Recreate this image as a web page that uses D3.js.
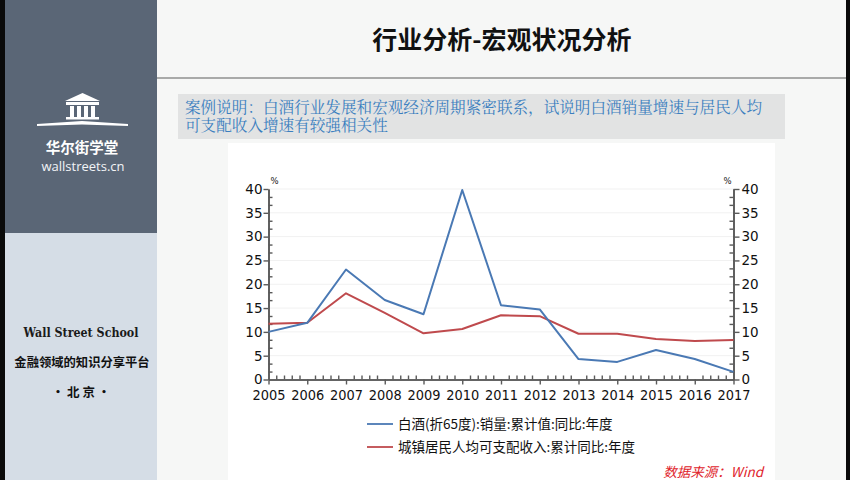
<!DOCTYPE html>
<html><head><meta charset="utf-8">
<script src="https://cdn.jsdelivr.net/npm/d3@7/dist/d3.min.js"></script>
<style>
html,body{margin:0;padding:0;background:#fff;}
svg{display:block;}
</style></head>
<body>
<svg id="c" width="850" height="480"></svg>
<script>
const years = [2005,2006,2007,2008,2009,2010,2011,2012,2013,2014,2015,2016,2017];
const baijiuSales = [10.0,11.9,23.1,16.7,13.7,39.8,15.6,14.7,4.3,3.7,6.2,4.3,1.6];
const incomeGrowth = [11.7,11.9,18.1,14.0,9.7,10.6,13.5,13.3,9.6,9.6,8.5,8.1,8.3];
const yTicks = [0,5,10,15,20,25,30,35,40];
const seriesNames = ["白酒(折65度):销量:累计值:同比:年度","城镇居民人均可支配收入:累计同比:年度"];
const seriesColors = ["#4a79b4","#bf4a4d"];
const titleText = "行业分析-宏观状况分析";
const noteLines = ["案例说明：白酒行业发展和宏观经济周期紧密联系，试说明白酒销量增速与居民人均","可支配收入增速有较强相关性"];
const sourceText = "数据来源：Wind";

const svg = d3.select("#c");
const CJK = "'Noto Sans CJK SC','Noto Sans',sans-serif";
const NUM = "'DejaVu Sans',sans-serif";

// backgrounds
svg.append("rect").attr("x",0).attr("y",0).attr("width",850).attr("height",480).attr("fill","#f6f7f6");
svg.append("rect").attr("x",0).attr("y",0).attr("width",5).attr("height",480).attr("fill","#0a0a0a");
svg.append("rect").attr("x",846).attr("y",0).attr("width",4).attr("height",480).attr("fill","#0a0a0a");
svg.append("rect").attr("x",5).attr("y",0).attr("width",152).attr("height",233).attr("fill","#5a6676");
svg.append("rect").attr("x",5).attr("y",233).attr("width",152).attr("height",247).attr("fill","#d5dde6");
// title separator
svg.append("rect").attr("x",157).attr("y",77).attr("width",689).attr("height",2).attr("fill","#a9aaa9");

// logo
const logo = svg.append("g").attr("fill","#fff");
logo.append("path").attr("d","M65,101 L82.5,93 L100,101 Z");
logo.append("rect").attr("x",66).attr("y",102).attr("width",33).attr("height",3);
[70,77,84,91].forEach(cx=>logo.append("rect").attr("x",cx).attr("y",106).attr("width",4).attr("height",11));
logo.append("rect").attr("x",66).attr("y",117).attr("width",33).attr("height",2.5);
logo.append("path").attr("d","M37,124 L82,121 L128,124 L128,126 L82,124.5 L37,126 Z");

svg.append("text").attr("x",82).attr("y",153).attr("text-anchor","middle")
  .attr("font-family",CJK).attr("font-weight","bold").attr("font-size",14.5).attr("fill","#fff").text("华尔街学堂");
svg.append("text").attr("x",83).attr("y",171).attr("text-anchor","middle")
  .attr("font-family","'Open Sans',sans-serif").attr("font-size",13).attr("fill","#f2f4f6").text("wallstreets.cn");

svg.append("text").attr("x",81).attr("y",337).attr("text-anchor","middle")
  .attr("font-family","'DejaVu Serif',serif").attr("font-weight","bold").attr("font-size",12)
  .attr("textLength",115).attr("lengthAdjust","spacingAndGlyphs").attr("fill","#1a1a1a").text("Wall Street School");
svg.append("text").attr("x",82).attr("y",367).attr("text-anchor","middle")
  .attr("font-family",CJK).attr("font-weight","bold").attr("font-size",12.3).attr("fill","#111").text("金融领域的知识分享平台");
svg.append("text").attr("x",81).attr("y",397).attr("text-anchor","middle")
  .attr("font-family",CJK).attr("font-weight","bold").attr("font-size",12.5).attr("fill","#111").text("• 北 京 •");

// title
svg.append("text").attr("x",502).attr("y",49).attr("text-anchor","middle")
  .attr("font-family",CJK).attr("font-weight","bold").attr("font-size",25).attr("fill","#111").text(titleText);

// note box (wrapped text in one element)
svg.append("rect").attr("x",178).attr("y",94).attr("width",607).attr("height",45).attr("fill","#e2e3e3");
const note = svg.append("text").attr("x",185).attr("y",113)
  .attr("font-family","'Noto Serif CJK SC','Noto Sans CJK SC',serif").attr("font-size",15.6)
  .attr("fill","#3c7fbf");
note.selectAll("tspan").data(noteLines).join("tspan")
  .attr("x",185).attr("dy",(d,i)=>i===0?0:18).text(d=>d);

// chart panel
svg.append("rect").attr("x",228).attr("y",143).attr("width",547).attr("height",337).attr("fill","#ffffff");

const x = d3.scaleLinear().domain([2005,2017]).range([268.5,733.5]);
const y = d3.scaleLinear().domain([0,40]).range([379.5,189]);

// grid
svg.append("g").selectAll("line").data(yTicks.slice(1)).join("line")
  .attr("x1",x(2005)).attr("x2",x(2017)).attr("y1",d=>y(d)).attr("y2",d=>y(d))
  .attr("stroke","#f1f1f1").attr("stroke-width",1);

const axisColor = "#5a5a5a";
function styleAxis(g, labels){
  g.select(".domain").attr("stroke",axisColor).attr("stroke-width",1.6);
  g.selectAll(".tick line").attr("stroke",axisColor).attr("stroke-width",1.4);
  g.selectAll(".tick text").attr("fill","#111").attr("font-family",NUM).attr("font-size",13.5);
  if(!labels) g.selectAll(".tick text").remove();
}
const minorY = d3.range(0,40.01,5/3).filter(v=>Math.abs(v/5-Math.round(v/5))>0.01);
const minorX = [];
years.slice(0,-1).forEach(yr=>{for(let k=1;k<5;k++) minorX.push(yr+k/5);});

// left axis
svg.append("g").attr("transform",`translate(${x(2005)},0)`)
  .call(d3.axisRight(y).tickValues(minorY).tickSize(4).tickSizeOuter(0).tickFormat(""))
  .call(g=>styleAxis(g,false));
svg.append("g").attr("transform",`translate(${x(2005)},0)`)
  .call(d3.axisLeft(y).tickValues(yTicks).tickSize(5).tickPadding(1).tickSizeOuter(0))
  .call(g=>styleAxis(g,true));
// right axis
svg.append("g").attr("transform",`translate(${x(2017)},0)`)
  .call(d3.axisLeft(y).tickValues(minorY).tickSize(4).tickSizeOuter(0).tickFormat(""))
  .call(g=>styleAxis(g,false));
svg.append("g").attr("transform",`translate(${x(2017)},0)`)
  .call(d3.axisRight(y).tickValues(yTicks).tickSize(6).tickPadding(2).tickSizeOuter(0))
  .call(g=>styleAxis(g,true));
// x axis
svg.append("g").attr("transform",`translate(0,${y(0)})`)
  .call(d3.axisTop(x).tickValues(minorX).tickSize(4).tickSizeOuter(0).tickFormat(""))
  .call(g=>styleAxis(g,false));
svg.append("g").attr("transform",`translate(0,${y(0)})`)
  .call(d3.axisBottom(x).tickValues(years).tickSize(5).tickPadding(6).tickSizeOuter(0).tickFormat(d3.format("d")))
  .call(g=>styleAxis(g,true))
  .call(g=>g.selectAll(".tick text").attr("textLength",33).attr("lengthAdjust","spacingAndGlyphs"));

// % units
svg.append("text").attr("x",x(2005)+2).attr("y",184).attr("font-family",NUM).attr("font-size",8.5).attr("fill","#222").text("%");
svg.append("text").attr("x",x(2017)-2).attr("y",184).attr("text-anchor","end").attr("font-family",NUM).attr("font-size",8.5).attr("fill","#222").text("%");

// lines
const line = d3.line().x((d,i)=>x(years[i])).y(d=>y(d));
[incomeGrowth, baijiuSales].forEach((s,j)=>{
  const idx = j===0?1:0;
  svg.append("path").attr("d",line(s)).attr("fill","none")
    .attr("stroke",seriesColors[idx]).attr("stroke-width",2).attr("stroke-linejoin","round");
});

// legend
const lg = svg.append("g").selectAll("g").data(seriesNames).join("g")
  .attr("transform",(d,i)=>`translate(367,${424+i*23})`);
lg.append("line").attr("x1",0).attr("x2",26).attr("y1",0).attr("y2",0)
  .attr("stroke",(d,i)=>seriesColors[i]).attr("stroke-width",1.8);
lg.append("text").attr("x",31).attr("y",5).attr("font-family",CJK).attr("font-size",13.5).attr("fill","#111").text(d=>d);

// source
svg.append("text").attr("x",763).attr("y",477).attr("text-anchor","end")
  .attr("font-family",CJK).attr("font-style","italic").attr("font-size",13.5).attr("fill","#e0242c").text(sourceText);
</script>
</body></html>
